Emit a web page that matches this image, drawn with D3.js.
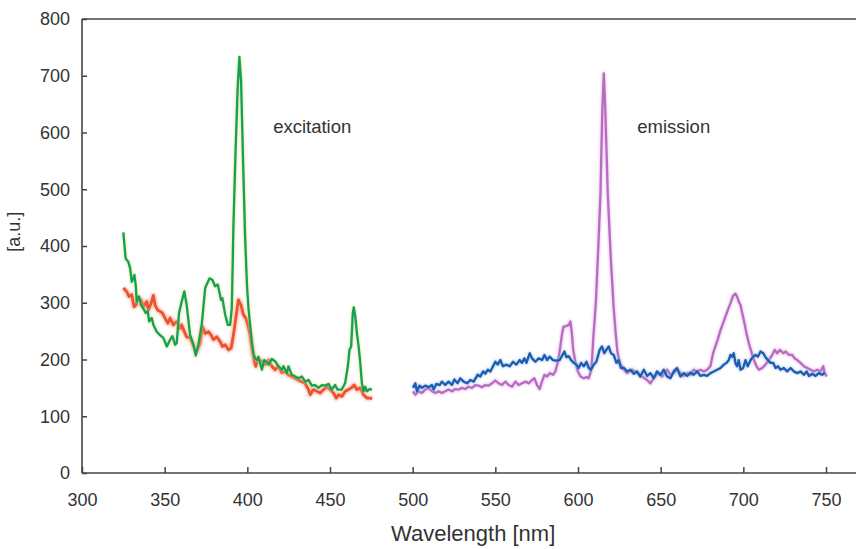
<!DOCTYPE html>
<html>
<head>
<meta charset="utf-8">
<script src="https://cdn.jsdelivr.net/npm/d3@7"></script>
<style>
  body { margin: 0; background: #fff; }
  text { font-family: "Liberation Sans", Arial, sans-serif; fill: #333; }
</style>
</head>
<body>
<script>
// readings [wavelength nm, intensity a.u.]
var excitationGreen = [
  [325.0,424],[326.4,378],[328.0,372],[329.1,361],[330.1,337],[331.1,343],[331.7,349],[332.5,331],[333.1,302],
  [334.5,311],[335.7,296],[337.1,290],[338.5,282],[339.8,285],[340.6,267],[342.2,273],[343.2,261],[345.2,249],
  [347.2,243],[349.2,238],[351.3,223],[353.3,235],[354.7,241],[356.3,226],[357.3,229],[358.7,282],[360.3,302],
  [361.9,320],[363.3,296],[365.4,243],[367.4,226],[368.8,207],[370.4,226],[372.4,261],[374.5,326],[377.1,343],
  [378.9,340],[380.5,329],[382.1,332],[383.0,320],[384.1,305],[384.9,308],[386.6,279],[388.2,261],[389.6,261],
  [390.6,290],[391.6,437],[392.9,569],[394.1,675],[395.2,733],[396.2,692],[397.4,552],[398.6,420],[399.8,330],
  [400.7,290],[401.7,261],[402.7,232],[403.7,211],[404.7,202],[405.7,199],[406.7,205],[408.8,182],[410.2,199],
  [411.5,196],[412.8,191],[414.8,201],[416.8,197],[418.8,188],[420.9,182],[421.9,188],[423.9,176],[424.9,188],
  [426.9,173],[428.9,170],[430.9,167],[433.0,170],[435.0,161],[437.0,164],[439.0,154],[441.0,155],[443.0,150],
  [445.1,155],[447.1,154],[449.1,157],[451.1,147],[453.1,155],[454.5,147],[457.1,147],[459.1,158],[460.8,188],
  [461.8,217],[462.8,223],[463.8,282],[464.4,292],[465.3,276],[466.3,246],[467.3,223],[468.3,194],[469.3,158],
  [470.3,144],[471.3,152],[472.3,144],[473.9,148],[475.4,147]
];

var excitationRed = [
  [325.0,326],[327.0,320],[328.4,311],[330.1,314],[331.5,293],[332.7,296],[334.1,308],[335.7,305],[337.1,293],
  [339.2,302],[340.1,287],[341.8,299],[343.2,313],[344.2,296],[345.8,287],[347.2,285],[348.6,282],[350.2,273],
  [351.9,264],[353.3,273],[355.3,261],[357.3,267],[359.3,255],[360.3,261],[361.9,249],[363.3,240],[365.4,238],
  [366.8,229],[368.0,220],[369.4,215],[371.4,229],[372.8,258],[374.5,246],[376.5,249],[378.1,243],[379.5,235],
  [381.5,240],[383.5,232],[384.9,223],[386.6,226],[388.6,217],[390.2,220],[391.6,243],[393.0,273],[394.6,305],
  [396.2,296],[397.6,279],[399.1,273],[400.3,261],[401.7,243],[403.1,214],[404.3,196],[405.1,188],[406.5,200],
  [408.8,197],[410.8,191],[412.8,199],[414.8,188],[416.8,182],[418.8,188],[420.9,177],[422.9,179],[424.9,173],
  [426.9,170],[428.9,167],[430.9,164],[433.0,161],[435.0,158],[437.0,147],[438.0,138],[440.0,147],[442.1,144],
  [444.1,141],[446.1,147],[448.1,152],[450.1,147],[452.1,141],[453.8,132],[455.1,138],[457.2,135],[459.2,144],
  [461.2,147],[463.3,151],[464.6,155],[466.2,147],[468.3,150],[470.3,138],[472.3,132],[474.3,132],[475.5,131]
];

var emissionBlue = [
  [500.2,150],[501.6,158],[502.6,144],[504.2,154],[505.6,150],[507.6,154],[509.6,151],[511.7,155],[512.7,147],
  [514.3,157],[516.3,155],[517.7,161],[519.7,155],[521.7,161],[523.8,155],[525.2,165],[527.2,158],[528.8,167],
  [530.8,161],[532.9,158],[534.9,164],[536.9,161],[539.3,173],[540.9,170],[542.6,179],[544.0,175],[545.4,182],
  [547.0,179],[548.6,188],[550.0,196],[551.4,191],[553.0,199],[554.6,188],[556.7,191],[558.7,188],[560.7,196],
  [562.7,191],[564.7,199],[566.1,194],[567.6,202],[568.8,194],[570.8,211],[572.2,202],[574.2,196],[576.2,202],
  [578.3,199],[579.7,208],[581.3,199],[582.8,205],[584.9,199],[586.9,198],[588.9,199],[590.6,208],[591.8,214],
  [593.0,204],[594.4,206],[595.8,199],[597.4,194],[599.0,191],[600.4,185],[601.9,194],[603.5,188],[605.1,196],
  [606.5,185],[607.9,182],[609.5,191],[611.1,196],[613.1,217],[614.5,223],[615.9,211],[617.1,217],[618.6,223],
  [620.0,211],[621.6,208],[623.2,194],[624.6,199],[626.0,185],[627.8,185],[629.7,179],[631.7,182],[633.7,175],
  [635.7,179],[637.7,170],[639.8,182],[641.8,171],[643.8,176],[645.8,167],[647.8,179],[649.9,173],[651.9,182],
  [653.9,170],[655.9,167],[657.9,179],[659.9,185],[662.0,170],[664.0,176],[666.0,171],[668.0,177],[670.0,173],
  [672.0,179],[674.1,171],[676.1,173],[678.1,171],[680.1,176],[682.1,179],[684.1,182],[686.2,185],[688.2,191],
  [689.8,194],[691.2,199],[692.2,208],[693.2,205],[694.2,211],[695.2,194],[696.2,188],[697.2,199],[698.3,182],
  [699.9,185],[701.3,199],[702.7,188],[704.4,199],[706.0,205],[707.4,208],[708.8,205],[710.4,214],[712.1,211],
  [713.4,204],[714.8,199],[716.5,194],[718.1,194],[719.5,185],[720.9,188],[722.5,182],[724.5,185],[726.5,179],
  [728.6,185],[730.6,179],[732.6,176],[734.6,179],[736.6,173],[738.3,179],[739.7,171],[741.7,175],[743.7,171],
  [745.7,176],[747.7,173],[749.2,177]
];

var emissionPurple = [
  [500.2,144],[501.6,138],[503.6,144],[505.6,141],[507.6,147],[509.6,150],[511.7,144],[513.7,141],[515.7,144],
  [517.7,141],[519.7,144],[521.7,147],[523.8,144],[525.8,148],[527.8,147],[529.8,150],[531.8,148],[533.8,152],
  [535.9,150],[537.9,155],[539.9,154],[541.9,151],[543.9,155],[545.9,154],[548.0,158],[550.0,163],[552.0,158],
  [554.0,155],[556.1,161],[558.1,155],[560.1,152],[562.1,161],[564.1,155],[566.2,158],[568.2,161],[570.2,158],
  [572.2,164],[573.6,167],[575.2,155],[576.8,148],[578.2,161],[579.7,173],[581.3,170],[582.9,176],[584.9,173],
  [586.3,179],[587.7,194],[588.9,214],[590.4,246],[591.3,258],[593.0,259],[594.4,261],[595.4,267],[596.2,249],
  [597.1,217],[598.5,194],[599.9,179],[601.5,170],[603.5,167],[605.1,169],[606.5,167],[607.5,176],[608.5,199],
  [609.3,240],[610.8,300],[612.3,400],[613.6,493],[614.7,640],[615.6,704],[616.5,640],[618.0,493],[619.8,380],
  [621.6,290],[622.8,246],[623.8,215],[624.8,200],[625.8,191],[627.8,182],[629.7,176],[632.7,182],[635.7,176],
  [638.8,170],[641.8,164],[643.8,158],[645.8,167],[648.2,176],[650.9,170],[653.9,182],[655.9,173],[657.9,176],
  [659.9,182],[662.0,176],[664.0,171],[666.0,176],[668.0,173],[670.0,182],[672.0,179],[674.1,182],[676.1,179],
  [678.1,182],[680.1,188],[681.7,211],[683.1,223],[684.5,235],[686.2,252],[687.8,264],[689.2,276],[690.6,287],
  [692.2,299],[693.8,312],[695.2,316],[696.2,311],[697.2,302],[698.3,296],[699.3,282],[700.7,264],[701.9,246],
  [703.3,229],[704.8,214],[706.4,199],[708.0,188],[709.4,182],[711.4,185],[713.4,191],[715.4,199],[717.5,208],
  [718.9,217],[720.5,211],[722.1,217],[724.2,211],[725.6,214],[727.6,208],[729.6,208],[731.0,202],[732.6,199],
  [734.6,194],[736.6,188],[738.7,185],[740.7,182],[742.7,179],[744.7,182],[746.7,179],[748.3,188],[749.2,176],
  [750.4,170]
];

var xTicks = [300, 350, 400, 450, 500, 550, 600, 650, 700, 750];
var yTicks = [0, 100, 200, 300, 400, 500, 600, 700, 800];

var margin = {top: 19, right: 30, bottom: 76, left: 82};
var width = 856 - margin.left - margin.right;
var height = 549 - margin.top - margin.bottom;

var svg = d3.select("body")
  .append("svg")
    .attr("width", 856)
    .attr("height", 549)
  .append("g")
    .attr("transform", "translate(" + margin.left + "," + margin.top + ")");

var x = d3.scaleLinear().domain([300, 750]).range([0, width]);
var y = d3.scaleLinear().domain([0, 800]).range([height, 0]);

var line = d3.line()
  .x(function(d) { return x(d[0]); })
  .y(function(d) { return y(d[1]); });

// soft halo under each trace, like the scanned figure
var defs = svg.append("defs");
defs.append("filter").attr("id", "blur").append("feGaussianBlur").attr("stdDeviation", 0.9);

function trace(data, color, halo, w, hw) {
  svg.append("path")
    .datum(data)
    .attr("d", line)
    .attr("fill", "none")
    .attr("stroke", halo)
    .attr("stroke-width", hw)
    .attr("stroke-linejoin", "round")
    .attr("filter", "url(#blur)")
    .attr("opacity", 0.6);
  svg.append("path")
    .datum(data)
    .attr("d", line)
    .attr("fill", "none")
    .attr("stroke", color)
    .attr("stroke-width", w)
    .attr("stroke-linejoin", "round");
}

trace(excitationRed, "#ee5130", "#f6a08a", 2.8, 5.5);
trace(excitationGreen, "#14a05c", "#d8e070", 2.3, 3.8);
trace(emissionPurple, "#b96ac3", "#e2b8e6", 2.3, 4.2);
trace(emissionBlue, "#1c5db4", "#9ab8e0", 2.3, 3.8);

// axes, ticks pointing into the plot
var xAxis = svg.append("g")
  .attr("transform", "translate(0," + height + ")")
  .call(d3.axisBottom(x).tickValues(xTicks).tickSizeInner(-6).tickSizeOuter(0).tickPadding(20));
var yAxis = svg.append("g")
  .call(d3.axisLeft(y).tickValues(yTicks).tickSizeInner(-5).tickSizeOuter(0).tickPadding(12));

[xAxis, yAxis].forEach(function(g) {
  g.select(".domain").remove();
  g.selectAll(".tick line").attr("stroke", "#444").attr("stroke-width", 1.5);
  g.selectAll(".tick text")
    .attr("fill", "#333")
    .style("font-family", "'Liberation Sans', Arial, sans-serif")
    .style("font-size", "18px");
});

svg.append("line")
  .attr("x1", 0).attr("x2", 856 - margin.left)
  .attr("y1", height).attr("y2", height)
  .attr("stroke", "#444").attr("stroke-width", 1.6);
svg.append("line")
  .attr("x1", 0).attr("x2", 856 - margin.left)
  .attr("y1", 0).attr("y2", 0)
  .attr("stroke", "#444").attr("stroke-width", 1.6);
svg.append("line")
  .attr("x1", 0).attr("x2", 0)
  .attr("y1", 0).attr("y2", height)
  .attr("stroke", "#444").attr("stroke-width", 1.6);

svg.append("text")
  .attr("x", x(536.6))
  .attr("y", height + 68)
  .attr("text-anchor", "middle")
  .style("font-size", "22px")
  .text("Wavelength [nm]");

svg.append("text")
  .attr("transform", "translate(" + (-62) + "," + y(425) + ") rotate(-90)")
  .attr("text-anchor", "middle")
  .style("font-size", "18px")
  .text("[a.u.]");

svg.append("text")
  .attr("x", x(415.6))
  .attr("y", y(600))
  .style("font-size", "18.5px")
  .text("excitation");

svg.append("text")
  .attr("x", x(635.8))
  .attr("y", y(600))
  .style("font-size", "18.5px")
  .text("emission");
</script>
</body>
</html>
